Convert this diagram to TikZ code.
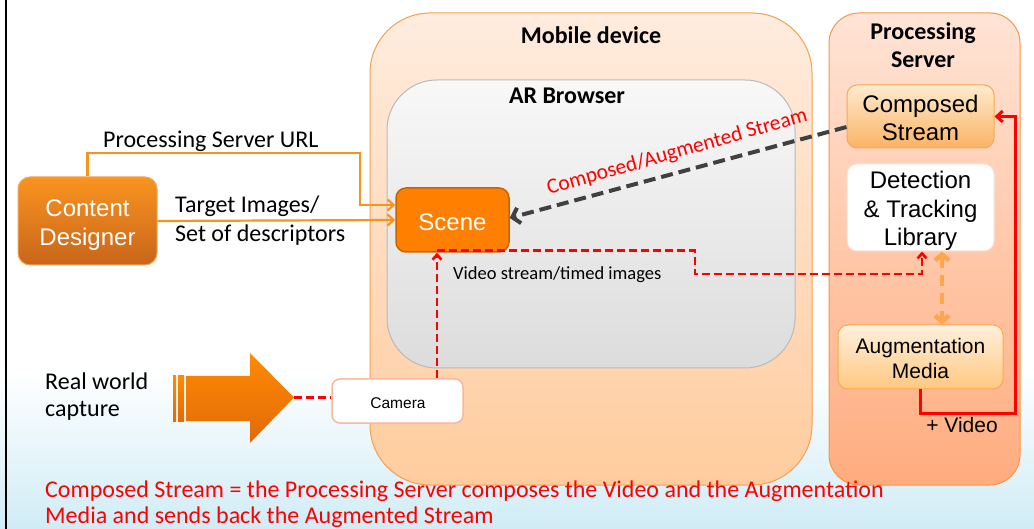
\documentclass[tikz,border=0pt]{standalone}
\usepackage{fontspec}
\setmainfont{Carlito}
\newfontfamily\arial{Liberation Sans}
\usetikzlibrary{arrows.meta,calc}
\definecolor{mdtop}{RGB}{255,236,222}
\definecolor{mdbot}{RGB}{255,204,158}
\definecolor{mdborder}{RGB}{245,160,80}
\definecolor{artop}{RGB}{248,248,248}
\definecolor{arbot}{RGB}{220,220,220}
\definecolor{arborder}{RGB}{185,185,185}
\definecolor{pstop}{RGB}{255,228,214}
\definecolor{psbot}{RGB}{255,172,126}
\definecolor{psborder}{RGB}{247,150,70}
\definecolor{cstop}{RGB}{255,234,206}
\definecolor{csbot}{RGB}{250,180,100}
\definecolor{amtop}{RGB}{255,240,220}
\definecolor{ambot}{RGB}{255,200,130}
\definecolor{boxborder}{RGB}{248,170,80}
\definecolor{scenefill}{RGB}{255,128,0}
\definecolor{sceneborder}{RGB}{200,100,0}
\definecolor{cdtop}{RGB}{249,148,32}
\definecolor{cdbot}{RGB}{200,101,26}
\definecolor{camborder}{RGB}{248,184,160}
\definecolor{oline}{RGB}{247,148,29}
\definecolor{odash}{RGB}{255,166,77}
\definecolor{gdash}{RGB}{64,64,64}
\definecolor{arrtop}{RGB}{255,138,0}
\definecolor{arrbot}{RGB}{226,106,10}
\definecolor{bgblue}{RGB}{208,236,246}
\begin{document}
\begin{tikzpicture}[x=1pt,y=-1pt,
  boxtext/.style={align=center,inner sep=0pt,font=\arial\fontsize{24}{28.5}\selectfont},
  calibri/.style={inner sep=0pt,font=\fontsize{24}{27}\selectfont},
  titletext/.style={inner sep=0pt,font=\bfseries\fontsize{24}{28}\selectfont},
  container/.style={draw,line width=1pt,inner sep=0pt},
  innerbox/.style={draw,line width=1pt,inner sep=0pt,rounded corners=10pt},
  orangeline/.style={draw=oline,line width=2.2pt,-{Straight Barb[length=6pt,width=11pt]}},
  reddash/.style={draw=red,line width=2.6pt,dash pattern=on 8pt off 4pt,-{Straight Barb[length=5pt,width=9pt]}},
  redplain/.style={draw=red,line width=2.6pt,dash pattern=on 8pt off 4pt},
  graydash/.style={draw=gdash,line width=4pt,dash pattern=on 12pt off 6pt,-{Straight Barb[length=7pt,width=16pt]}},
  orangedash/.style={draw=odash,line width=4.5pt,dash pattern=on 11pt off 7pt,{Straight Barb[length=6pt,width=14pt]}-{Straight Barb[length=6pt,width=14pt]}},
  redsolid/.style={draw=red,line width=3pt,-{Straight Barb[length=6pt,width=11pt]}}
]
\useasboundingbox (0,0) rectangle (1034,529);
% background
\fill[white] (0,0) rectangle (1034,529);
\shade[top color=white,bottom color=bgblue] (0,370) rectangle (1034,529);
\draw[black,line width=2.5pt] (6,0) -- (6,529);

% containers
\node[container,draw=mdborder,top color=mdtop,bottom color=mdbot,rounded corners=60pt,minimum width=442pt,minimum height=472pt] (mobile) at (591,249) {};
\node[titletext,anchor=base] (mobilelbl) at (591,44) {Mobile device};
\node[container,draw=arborder,top color=artop,bottom color=arbot,rounded corners=50pt,minimum width=408pt,minimum height=288pt] (arb) at (591,224) {};
\node[titletext,anchor=base] (arlbl) at (567,104) {AR Browser};
\node[container,draw=psborder,top color=pstop,bottom color=psbot,rounded corners=30pt,minimum width=191pt,minimum height=472pt] (ps) at (924.5,249) {};
\node[titletext,anchor=base] (pslbl1) at (923,40) {Processing};
\node[titletext,anchor=base] (pslbl2) at (923,68) {Server};

% inner boxes
\node[innerbox,draw=boxborder,top color=cstop,bottom color=csbot,minimum width=147pt,minimum height=63pt] (cs) at (920.5,116.5) {};
\node[boxtext] (cstxt) at (920.5,118) {Composed\\Stream};
\node[innerbox,draw={rgb,255:red,248;green,225;blue,215},fill=white,minimum width=147pt,minimum height=87pt] (lib) at (920.5,207.5) {};
\node[boxtext] (libtxt) at (920.5,211) {Detection\\\& Tracking\\Library};
\node[innerbox,draw=boxborder,top color=amtop,bottom color=ambot,minimum width=165pt,minimum height=64pt] (aug) at (920.5,357) {};
\node[align=center,inner sep=0pt,font=\arial\fontsize{21}{25}\selectfont] (augtxt) at (920.5,358) {Augmentation\\Media};
\node[innerbox,draw=sceneborder,fill=scenefill,line width=1.5pt,minimum width=113pt,minimum height=64pt] (scene) at (452.5,220) {};
\node[boxtext,text=white] (scenetxt) at (452.5,222) {Scene};
\node[innerbox,draw={rgb,255:red,245;green,165;blue,90},top color=cdtop,bottom color=cdbot,rounded corners=12pt,minimum width=139pt,minimum height=88pt] (cd) at (87.5,221) {};
\node[boxtext,text=white] (cdtxt) at (87.5,225) {Content\\Designer};
\node[innerbox,draw=camborder,line width=1.5pt,fill=white,rounded corners=8pt,minimum width=131pt,minimum height=44pt] (camera) at (397.5,401) {};
\node[inner sep=0pt,font=\arial\fontsize{15.5}{18}\selectfont] (camtxt) at (398,403) {Camera};

% big arrow
\shade[top color=arrtop,bottom color=arrbot] (186,376) -- (250,376) -- (250,353) -- (294,397.5) -- (250,443) -- (250,421) -- (186,421) -- cycle;
\shade[top color=arrtop,bottom color=arrbot] (173,376) rectangle (176,421);
\shade[top color=arrtop,bottom color=arrbot] (178,376) rectangle (184,421);
\coordinate (bigtip) at (294,397.5);

% coordinates
\coordinate (urlturn) at (360,153);
\coordinate (vx) at (437,0);
\coordinate (vturn) at (695,274);
\coordinate (ox) at (942,0);
\coordinate (rv) at (1015,413);

% connectors
\draw[orangeline] (cd.north) |- (urlturn) |- ([yshift=15pt]scene.west);
\draw[orangeline] (cd.east) -- (scene.west);
\draw[graydash] ([yshift=-10.5pt]cs.west) -- ([yshift=2pt]scene.east);
\draw[reddash] (camera.north -| vx) -- (scene.south -| vx);
\draw[reddash] ([yshift=2pt]scene.south -| vx) -| (vturn) -| ([xshift=1.5pt]lib.south);
\draw[orangedash] (lib.south -| ox) -- (aug.north -| ox);
\draw[redsolid] (aug.south) |- (rv) |- (cs.east);
\draw[redplain] (bigtip) -- (camera.west |- bigtip);

% labels
\node[calibri,anchor=base west] (urllbl) at (103,148) {Processing Server URL};
\node[calibri,anchor=base west] (tgt1) at (175,213) {Target Images/};
\node[calibri,anchor=base west] (tgt2) at (175,242) {Set of descriptors};
\node[inner sep=0pt,font=\fontsize{18.5}{22}\selectfont,anchor=base west] (vidlbl) at (453,280) {Video stream/timed images};
\node[font=\fontsize{21.5}{25}\selectfont,text=red,anchor=base west,rotate=16,inner sep=0pt] (caslbl) at (549,195) {Composed/Augmented Stream};
\node[inner sep=0pt,font=\arial\fontsize{21}{25}\selectfont,anchor=base] (pluslbl) at (962,432) {+ Video};
\node[calibri,anchor=base west] (rw1) at (45,390) {Real world};
\node[calibri,anchor=base west] (rw2) at (45,417) {capture};
\node[calibri,text=red,anchor=base west] (note1) at (45,497) {Composed Stream = the Processing Server composes the Video and the Augmentation};
\node[calibri,text=red,anchor=base west] (note2) at (45,523) {Media and sends back the Augmented Stream};
\end{tikzpicture}
\end{document}
